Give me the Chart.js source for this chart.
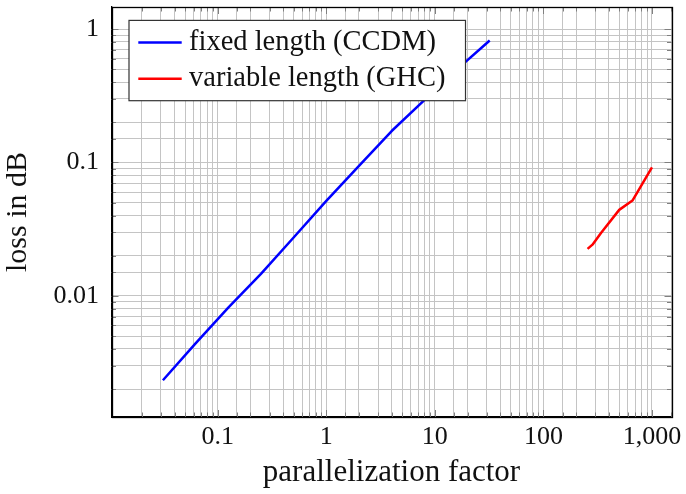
<!DOCTYPE html>
<html>
<head>
<meta charset="utf-8">
<script src="https://cdn.jsdelivr.net/npm/chart.js@4.4.1/dist/chart.umd.min.js"></script>
<style>
  html, body { margin: 0; padding: 0; background: #ffffff; }
  #wrap { width: 686px; height: 494px; position: relative; }
</style>
</head>
<body>
<div id="wrap"><canvas id="c" width="686" height="494"></canvas></div>
<script>
// ---- data ----
const ccdmX = [0.03125, 0.0625, 0.125, 0.25, 0.5, 1, 2, 4, 8, 16, 32];
const ccdmY = [0.00233, 0.00441, 0.00815, 0.0146, 0.0274, 0.0515, 0.0944, 0.172, 0.293, 0.499, 0.82];
const ghcX = [255, 283, 339, 499, 661, 1000];
const ghcY = [0.0225, 0.0242, 0.0296, 0.0441, 0.0518, 0.092];
const seriesLabels = ['fixed length (CCDM)', 'variable length (GHC)'];
const xTickValues = [0.1, 1, 10, 100, 1000];
const xTickLabels = ['0.1', '1', '10', '100', '1,000'];
const yTickValues = [0.01, 0.1, 1];
const yTickLabels = ['0.01', '0.1', '1'];
const xRange = [0.0105, 1513];
const yRange = [0.001236, 1.463];
const xTitle = 'parallelization factor';
const yTitle = 'loss in dB';

const FONT = "'Liberation Serif', 'Times New Roman', serif";
const GRID = '#c4c4c4';
const TICK = '#808080';

function labelFor(value, vals, labels) {
  for (let i = 0; i < vals.length; i++) {
    if (Math.abs(Math.log10(value) - Math.log10(vals[i])) < 1e-6) return labels[i];
  }
  return '';
}
function isDecade(v) {
  const l = Math.log10(v);
  return Math.abs(l - Math.round(l)) < 1e-6;
}

const innerTicks = {
  id: 'innerTicks',
  beforeDatasetsDraw(chart) {
    const ctx = chart.ctx, a = chart.chartArea;
    const xs = chart.scales.x, ys = chart.scales.y;
    ctx.save();
    ctx.strokeStyle = TICK;
    ctx.lineWidth = 1;
    ctx.beginPath();
    xs.ticks.forEach(t => {
      if (t.value <= xRange[0] || t.value >= xRange[1]) return;
      const p = Math.round(xs.getPixelForValue(t.value)) + 0.5;
      const len = isDecade(t.value) ? 7 : 4.5;
      ctx.moveTo(p, a.bottom); ctx.lineTo(p, a.bottom - len);
      ctx.moveTo(p, a.top); ctx.lineTo(p, a.top + len);
    });
    ys.ticks.forEach(t => {
      if (t.value <= yRange[0] || t.value >= yRange[1]) return;
      const p = Math.round(ys.getPixelForValue(t.value)) + 0.5;
      const len = isDecade(t.value) ? 7 : 4.5;
      ctx.moveTo(a.left, p); ctx.lineTo(a.left + len, p);
      ctx.moveTo(a.right, p); ctx.lineTo(a.right - len, p);
    });
    ctx.stroke();
    ctx.restore();
  }
};

const boxLegend = {
  id: 'boxLegend',
  afterDatasetsDraw(chart) {
    const ctx = chart.ctx, a = chart.chartArea;
    // full frame around the plot area
    ctx.save();
    ctx.strokeStyle = '#000000';
    ctx.lineWidth = 1.3;
    ctx.strokeRect(Math.round(a.left) + 0.5, Math.round(a.top) + 0.5,
                   Math.round(a.right) - Math.round(a.left), Math.round(a.bottom) - Math.round(a.top));
    ctx.restore();

    const x0 = a.left + 17.5, y0 = a.top + 13.4;
    const fontPx = 28.5;
    ctx.save();
    ctx.font = fontPx + 'px ' + FONT;
    const ds = chart.data.datasets;
    let maxW = 0;
    ds.forEach(d => { maxW = Math.max(maxW, ctx.measureText(d.label).width); });
    const textX = x0 + 60;
    const w = Math.max(336.5, textX + maxW + 16 - x0);
    const h = 80.3;
    ctx.fillStyle = '#ffffff';
    ctx.fillRect(x0, y0, w, h);
    ctx.strokeStyle = '#333333';
    ctx.lineWidth = 1.2;
    ctx.strokeRect(x0, y0, w, h);
    const rowMid = [22, 58.3];
    const rowBase = [30, 65.3];
    ds.forEach((d, i) => {
      ctx.strokeStyle = d.borderColor;
      ctx.lineWidth = d.borderWidth;
      ctx.beginPath();
      ctx.moveTo(x0 + 9.3, y0 + rowMid[i]);
      ctx.lineTo(x0 + 52.7, y0 + rowMid[i]);
      ctx.stroke();
      ctx.fillStyle = '#111111';
      ctx.textBaseline = 'alphabetic';
      ctx.textAlign = 'left';
      ctx.fillText(d.label, textX, y0 + rowBase[i]);
    });
    ctx.restore();
  }
};

new Chart(document.getElementById('c'), {
  type: 'line',
  data: {
    datasets: [
      {
        label: seriesLabels[0],
        data: ccdmX.map((x, i) => ({ x: x, y: ccdmY[i] })),
        borderColor: '#0000ff',
        borderWidth: 2.5,
        pointRadius: 0,
        tension: 0,
        borderJoinStyle: 'round',
        fill: false
      },
      {
        label: seriesLabels[1],
        data: ghcX.map((x, i) => ({ x: x, y: ghcY[i] })),
        borderColor: '#ff0000',
        borderWidth: 2.5,
        pointRadius: 0,
        tension: 0,
        borderJoinStyle: 'round',
        fill: false
      }
    ]
  },
  options: {
    responsive: false,
    animation: false,
    devicePixelRatio: 1,
    layout: { padding: { left: 0, right: 14.5, top: 7, bottom: 0 } },
    plugins: {
      legend: { display: false },
      tooltip: { enabled: false }
    },
    scales: {
      x: {
        type: 'logarithmic',
        min: xRange[0],
        max: xRange[1],
        afterFit(scale) {
          scale.height = 77;
          scale.paddingLeft = 0; scale.paddingRight = 0;
        },
        grid: { color: GRID, lineWidth: 1, drawTicks: false },
        border: { color: '#000000', width: 1.3 },
        ticks: {
          autoSkip: false,
          maxRotation: 0,
          minRotation: 0,
          padding: 4.5,
          color: '#111111',
          font: { family: FONT, size: 26 },
          callback: (v) => labelFor(v, xTickValues, xTickLabels)
        },
        title: {
          display: true,
          text: xTitle,
          color: '#111111',
          font: { family: FONT, size: 31, lineHeight: 1.2 },
          padding: { top: 0, bottom: 3 }
        }
      },
      y: {
        type: 'logarithmic',
        min: yRange[0],
        max: yRange[1],
        afterFit(scale) {
          scale.width = 111.5;
          scale.paddingTop = 0; scale.paddingBottom = 0;
        },
        grid: { color: GRID, lineWidth: 1, drawTicks: false },
        border: { color: '#000000', width: 1.3 },
        ticks: {
          autoSkip: false,
          padding: 12.5,
          color: '#111111',
          font: { family: FONT, size: 26 },
          callback: (v) => labelFor(v, yTickValues, yTickLabels)
        },
        title: {
          display: true,
          text: yTitle,
          color: '#111111',
          font: { family: FONT, size: 30, lineHeight: 1.2 },
          padding: { top: 0, bottom: 0 }
        }
      }
    }
  },
  plugins: [innerTicks, boxLegend]
});
</script>
</body>
</html>
